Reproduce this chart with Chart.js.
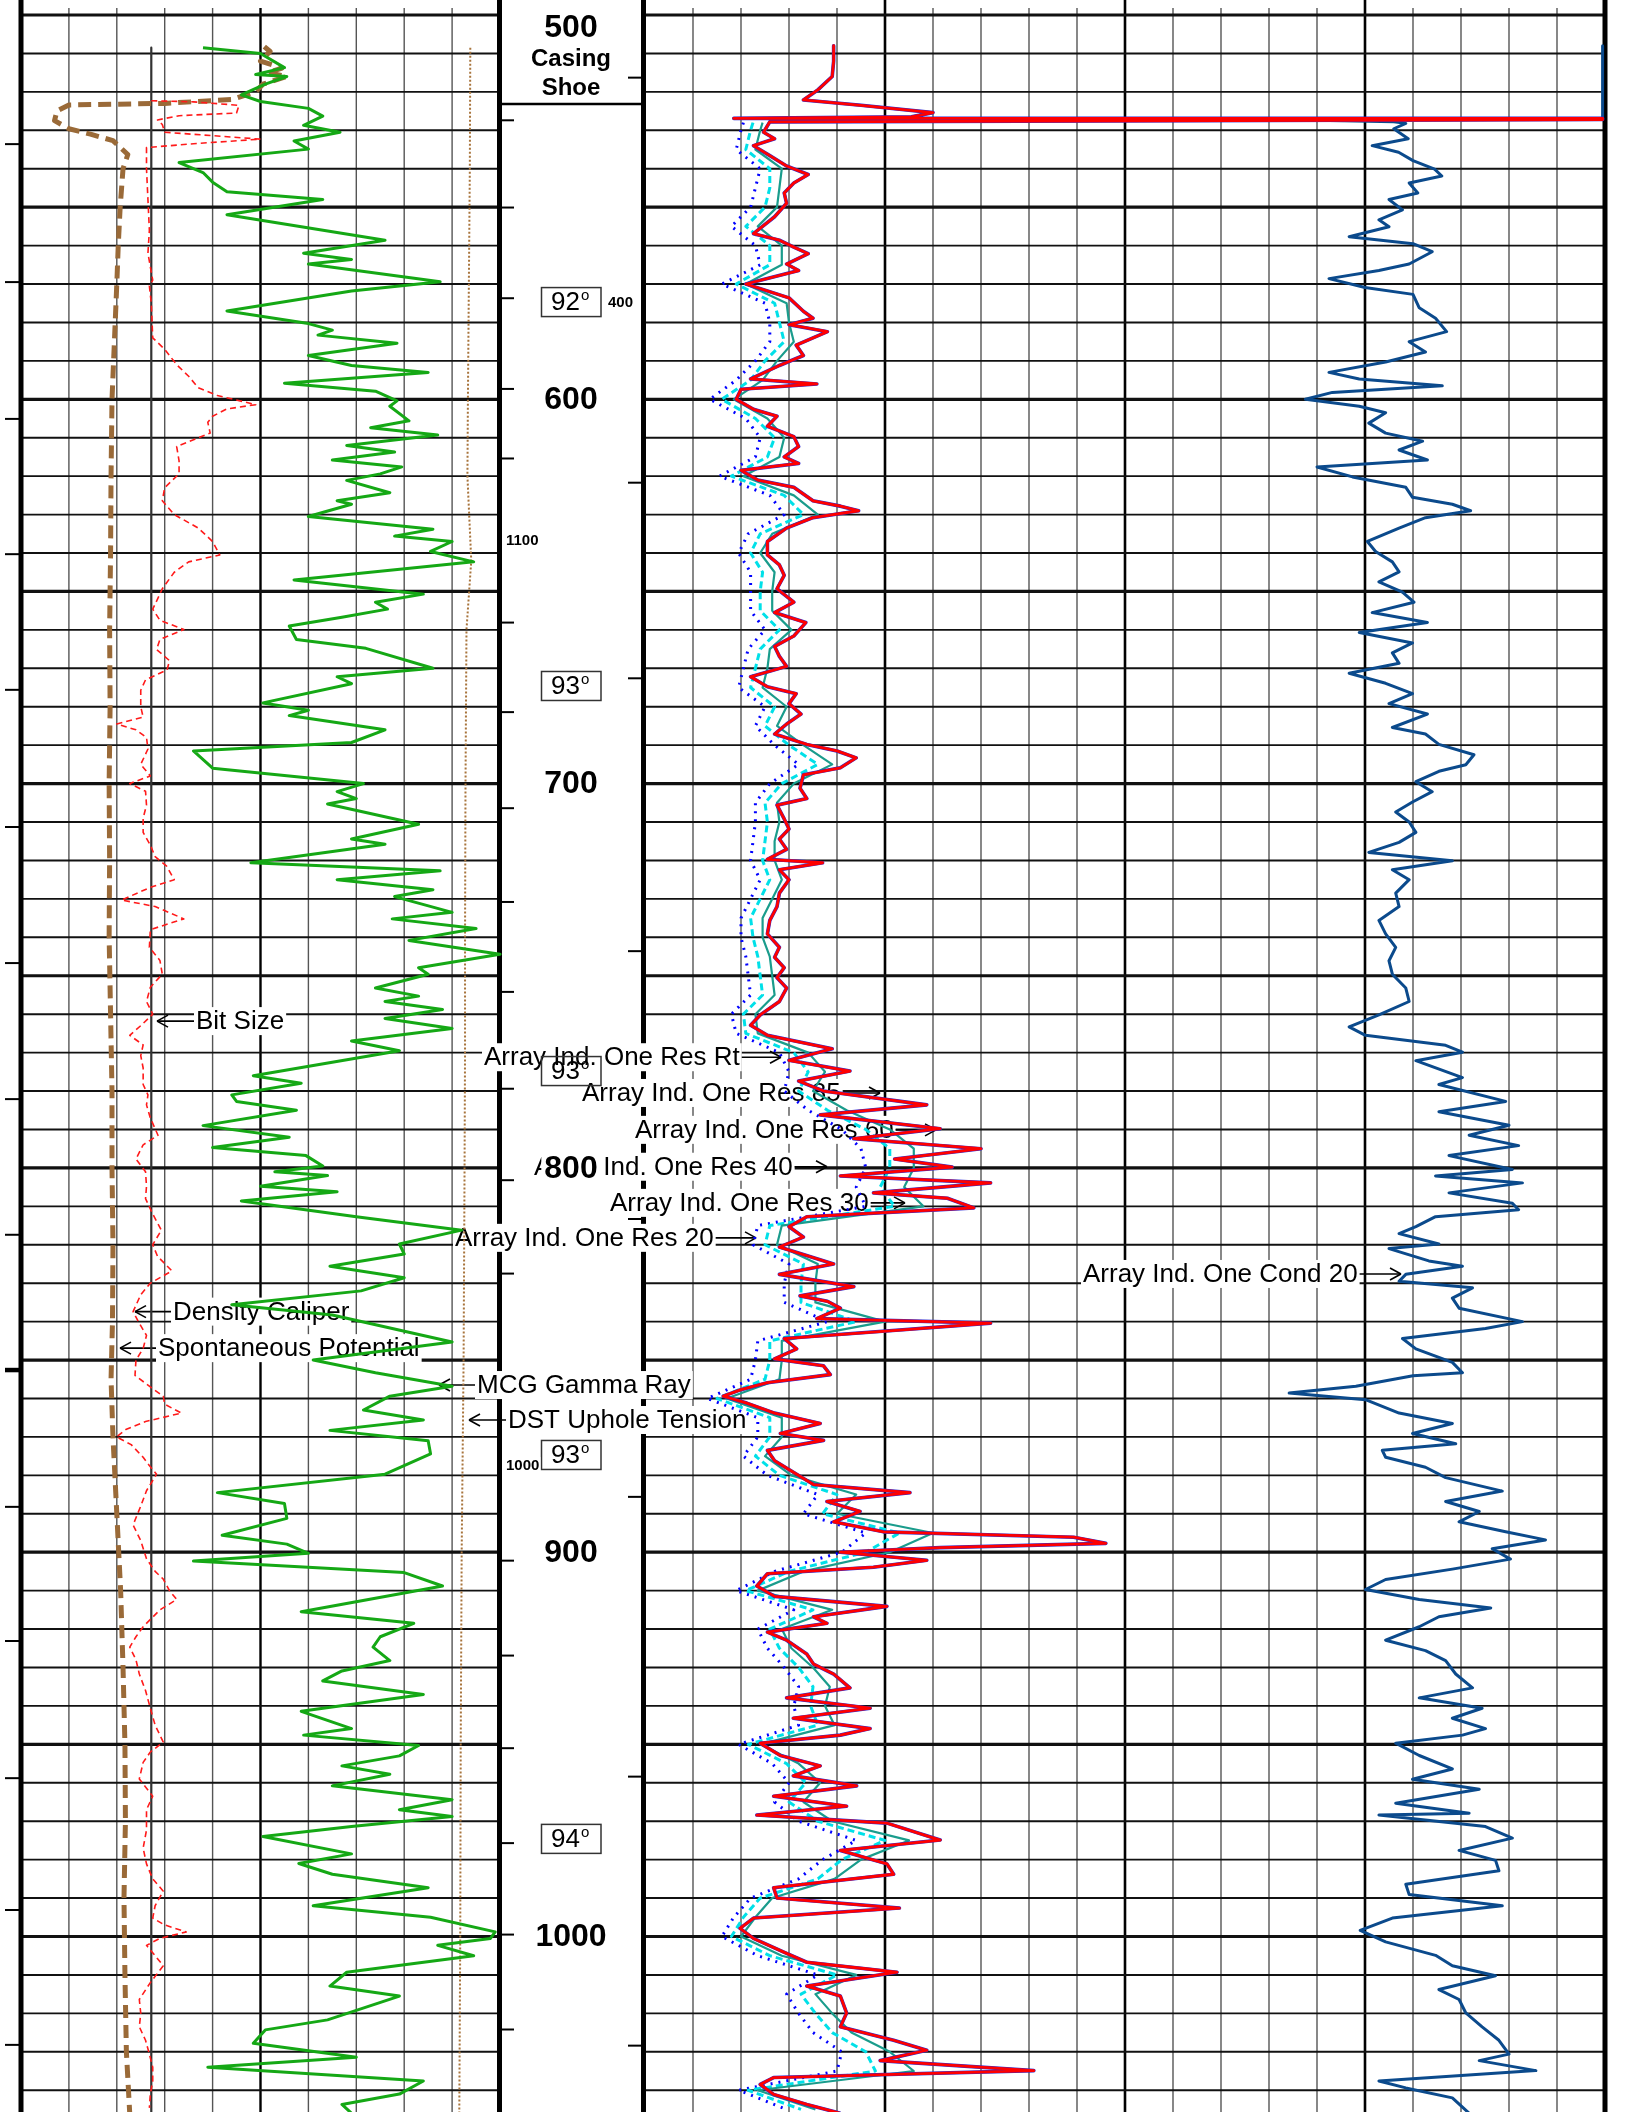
<!DOCTYPE html>
<html>
<head>
<meta charset="utf-8">
<script src="https://cdn.jsdelivr.net/npm/chart.js@4.4.0/dist/chart.umd.min.js"></script>
<style>
html, body { margin: 0; padding: 0; background: #fff; }
#wrap { position: relative; width: 1627px; height: 2112px; }
</style>
</head>
<body>
<div id="wrap"><canvas id="logChart" width="1627" height="2112"></canvas></div>
<script>
// depth (ft) / value pairs, values in track grid units
var gammaRay = [[508.5,3.8],[510,5.0],[513.7,5.5],[515.5,4.9],[516,5.55],[518,5.1],[520.8,4.6],[522.5,5.0],[524.3,6.0],[526.3,6.3],[528.7,5.9],[530.5,6.66],[532.8,5.7],[534.9,6.0],[538.4,3.3],[541,3.8],[543.5,4.0],[546,4.3],[548,6.3],[552,4.3],[558.6,7.6],[562,5.9],[563.6,6.9],[564.8,6.0],[569.4,8.75],[571.8,6.9],[577,4.3],[580.3,6.0],[582,6.5],[583.3,6.2],[585.4,7.85],[588.6,6.0],[591.2,6.9],[593,8.5],[595.8,5.5],[597.9,7.4],[600.4,7.85],[601.8,7.7],[605.6,8.1],[607.4,7.3],[609.3,8.7],[612,6.8],[613.7,7.8],[615.8,6.5],[617.6,7.95],[619.4,7.5],[621.1,6.8],[624.3,7.7],[626.4,6.6],[627.3,6.9],[630.5,6.0],[633.8,8.6],[635.6,7.8],[637,9.0],[639.6,8.55],[642.3,9.45],[647,5.7],[650.7,8.4],[652.8,7.4],[654.6,7.65],[656.7,6.7],[659,5.6],[662.5,5.75],[664.8,7.2],[670,8.6],[672.2,6.6],[674,6.9],[679,5.05],[680.9,6.0],[682.3,5.6],[686,7.6],[689.3,6.9],[691.5,3.6],[696,4.0],[700,7.15],[702.1,6.6],[703.9,7.0],[705.3,6.4],[710.6,8.3],[714.4,6.9],[715.8,7.6],[720.6,4.8],[722.7,8.75],[725,6.6],[727.6,8.6],[729.4,7.8],[733.5,9.0],[735.2,7.75],[737.7,9.5],[740.8,8.1],[744.4,10.0],[747.9,8.3],[749.6,8.5],[753.2,7.4],[755.3,8.3],[756.7,7.6],[758.8,8.8],[761.1,7.6],[763.7,9.0],[767,6.9],[769.5,7.9],[771,7.2],[776,4.85],[778,5.85],[781,4.4],[782.7,4.5],[785,5.75],[789,3.8],[792,5.6],[794.7,4.0],[796.8,5.95],[799.5,6.3],[801,5.3],[802,6.4],[804.8,5.0],[806.2,6.6],[808.6,4.6],[812.7,7.0],[816.2,9.2],[819.8,7.9],[822.4,8.0],[825.6,6.45],[828.6,8.0],[832,7.1],[835.6,4.4],[838.3,6.5],[845.3,9.0],[850,6.1],[853.3,7.4],[856.8,9.0],[859.4,7.7],[863,7.15],[865.6,8.4],[868.3,6.45],[871,8.5],[874.4,8.55],[879.7,7.6],[884.5,4.1],[887.3,5.5],[891.2,5.55],[895.6,4.2],[897.9,5.55],[900.3,6.0],[902.3,3.6],[905.3,8.0],[908.8,8.8],[910.6,8.0],[915.5,5.85],[918.5,8.2],[922,7.5],[924.7,7.35],[928.2,7.7],[930.9,6.7],[933.5,6.3],[937,8.4],[941.4,5.85],[945.9,6.9],[947.6,5.9],[950.3,8.3],[953,7.9],[955.6,6.7],[957.8,7.7],[960.8,6.5],[964.4,9.0],[967,7.9],[968.8,9.0],[971.4,6.9],[974,5.05],[978.5,6.9],[981,5.8],[983.8,6.5],[987.3,8.5],[992,6.1],[995,8.55],[998.8,9.9],[1000.5,9.8],[1002.3,8.7],[1005,9.45],[1009.3,6.8],[1012.9,6.45],[1015.5,7.9],[1021.7,6.4],[1024.3,5.1],[1027.8,4.85],[1031.4,7.0],[1034,3.9],[1037.6,8.4],[1041,7.9],[1043.7,6.7],[1046,6.9]];

var spontaneousPotential = [[508.2,5.08],[509.5,5.2],[512,5.0],[513.8,5.45],[515,5.15],[516,5.55],[518,5.05],[520,4.9],[522,4.4],[523,3.0],[523.4,1.0],[525,0.75],[527.5,0.7],[529.6,1.0],[531,1.45],[532.7,1.92],[536.3,2.23],[540,2.13],[550,2.07],[560,2.03],[570,2.0],[585,1.95],[600,1.9],[620,1.88],[640,1.87],[660,1.85],[680,1.86],[700,1.84],[720,1.85],[740,1.84],[760,1.87],[780,1.9],[800,1.9],[820,1.92],[840,1.91],[855,1.88],[870,1.92],[890,2.0],[910,2.08],[930,2.13],[950,2.17],[970,2.18],[990,2.15],[1010,2.17],[1030,2.2],[1046,2.27]];

var densityCaliper = [[522.3,2.72],[522.6,3.6],[523.5,4.55],[525.5,4.5],[526.2,3.3],[527.3,2.85],[528.5,2.95],[530.5,3.0],[532.3,5.0],[533.5,3.6],[534.5,2.62],[540,2.62],[548,2.65],[556,2.68],[562,2.65],[569,2.75],[570.5,2.68],[575,2.72],[584,2.75],[587,3.0],[591,3.25],[594,3.5],[597,3.7],[599,4.1],[601.4,4.9],[602.5,4.3],[604.4,4.0],[606,3.9],[608.8,3.95],[612.3,3.25],[616,3.3],[619.4,3.3],[623,3.0],[626.4,2.95],[630,3.2],[633.5,3.7],[637,4.0],[640.5,4.15],[642.3,3.5],[645,3.2],[649.3,2.95],[652,2.85],[654.6,2.75],[657.5,2.9],[659.9,3.4],[662.5,2.9],[665.1,2.83],[668,3.1],[670.4,3.05],[673,2.6],[675.7,2.5],[680,2.5],[682.7,2.55],[684.5,2.0],[686,2.4],[688,2.62],[691,2.65],[695,2.5],[698,2.7],[700,2.27],[702,2.6],[705.6,2.62],[709,2.55],[712.7,2.55],[716,2.7],[719,2.8],[721.5,3.04],[725,3.2],[727,2.7],[730.3,2.1],[732,2.8],[735.2,3.4],[738,2.7],[742.6,2.68],[746,2.9],[749.6,2.95],[753,2.7],[756.7,2.62],[760,2.75],[763,2.5],[765.5,2.27],[768,2.55],[770.8,2.5],[774,2.55],[778.3,2.55],[781,2.65],[783.6,2.62],[787,2.7],[791.5,2.86],[794,2.55],[797.7,2.4],[801,2.6],[804.8,2.62],[808,2.6],[812,2.75],[816.2,2.93],[820,2.75],[823,2.85],[826.8,3.15],[830,2.7],[833,2.5],[837.4,2.34],[840,2.45],[843.6,2.62],[847,2.55],[850,2.4],[854,2.38],[857,2.7],[859.4,2.97],[861.5,3.0],[863.8,3.35],[866,2.6],[868,2.2],[870,1.99],[872,2.3],[875.3,2.55],[877,2.65],[879.7,2.83],[884,2.62],[888,2.5],[892.9,2.34],[897,2.5],[901.7,2.62],[905,2.8],[907,2.97],[910,3.1],[912.3,3.25],[915,2.9],[919.4,2.55],[922,2.4],[924.7,2.27],[928,2.4],[931.7,2.47],[936,2.6],[940.6,2.7],[945,2.8],[949.4,2.97],[952,2.7],[954.7,2.55],[959,2.47],[963.5,2.75],[967,2.62],[972.3,2.62],[977,2.55],[981.1,2.62],[985,2.75],[988.2,2.97],[992,2.8],[995.2,2.75],[997,3.0],[998.8,3.45],[1000.5,2.9],[1002.3,2.62],[1005,2.8],[1007.6,2.97],[1012,2.7],[1016.4,2.47],[1020,2.5],[1023.5,2.47],[1027,2.6],[1030.6,2.68],[1034,2.75],[1037.6,2.75],[1041,2.7],[1044.6,2.68]];

var bitSize = [[508.5,2.72],[1046,2.72]];

var upholeTension = [[508.5,9.38],[540,9.37],[570,9.35],[600,9.33],[620,9.32],[642,9.4],[660,9.3],[700,9.28],[740,9.27],[770,9.27],[800,9.26],[850,9.24],[900,9.2],[950,9.18],[1000,9.17],[1046,9.15]];

var resRt = [[508,3.93],[512,3.93],[516,3.9],[519.5,3.6],[522.1,3.3],[523.5,4.5],[525.4,6.0],[526.5,5.55],[526.9,1.85],[526.9,19.95],[527.2,19.95],[527.8,2.6],[530.5,2.47],[532.2,2.7],[534,2.26],[536.6,2.6],[539.3,2.95],[541.5,3.4],[543.7,3.1],[546.3,2.9],[549,2.95],[552.5,2.7],[556.9,2.26],[558.6,2.8],[560.4,3.1],[562.1,3.4],[564.8,2.95],[566.5,3.2],[570,2.1],[573.6,3.0],[577.1,3.3],[578.9,3.5],[580.6,3.0],[582.4,3.8],[585.9,3.15],[588.6,3.3],[591.2,2.8],[594.7,2.2],[596,3.58],[597.4,2.0],[600,1.9],[602.6,2.26],[604.4,2.75],[607,2.55],[609.7,3.1],[612.3,3.2],[615,2.9],[616.7,3.2],[618.5,2.0],[621,2.35],[622.9,3.1],[626.4,3.5],[627.8,4.07],[629,4.45],[630.8,3.5],[633.5,2.95],[637,2.55],[640.5,2.55],[643.1,2.8],[645.8,2.9],[649.3,2.75],[652.8,3.1],[655.5,2.7],[658.1,3.35],[661.6,3.1],[664.3,2.7],[666.9,2.8],[669.5,2.95],[672.2,2.2],[674.8,2.55],[676.6,3.15],[679.2,3.0],[681.9,3.25],[684.5,2.95],[687.1,2.7],[689.8,3.37],[691.5,4.0],[693.3,4.4],[695.9,4.07],[697.7,3.3],[701.2,3.23],[703.9,3.37],[705.6,2.75],[709.2,2.9],[711.8,3.0],[714.4,2.8],[717.1,2.95],[719.7,2.55],[720.6,3.7],[722.4,2.8],[725,3.0],[728.5,2.8],[732,2.75],[735.6,2.6],[739.1,2.55],[742.6,2.8],[745.2,2.7],[747.9,2.9],[750.5,2.75],[753.2,2.95],[756.7,2.8],[760.2,2.4],[762.9,2.2],[765.5,2.55],[769,3.9],[772,3.0],[774.8,4.27],[777.4,3.2],[780,3.72],[783.6,5.87],[786.2,3.65],[789.8,6.15],[792.4,4.35],[795,7.0],[797.7,5.2],[799.8,6.4],[802.1,4.07],[803.9,7.2],[806.5,4.76],[807.9,6.3],[810.4,6.85],[812.7,3.37],[815.3,3.0],[818,3.3],[820.6,2.8],[825,3.93],[827.7,2.8],[830.9,4.35],[833.3,3.23],[834.7,3.8],[836.5,4.07],[839.2,3.58],[840.4,7.2],[842.2,5.3],[844.4,2.9],[847.1,3.16],[849.7,2.7],[851.5,3.72],[853.8,3.86],[855.9,2.55],[857.7,2.0],[859.4,1.63],[861.2,2.12],[863.8,2.7],[866.5,3.65],[869.1,2.82],[870.9,3.72],[873.5,2.55],[876.2,2.7],[879.7,3.16],[882.4,3.51],[884.5,5.52],[886.8,3.79],[889.4,4.48],[892.1,3.93],[894.7,4.97],[896.1,8.93],[897.7,9.6],[898.8,6.15],[900,4.07],[902.1,5.87],[903.9,4.76],[905.6,2.55],[908.8,2.33],[911.5,2.7],[914.1,5.04],[916.8,3.51],[918.5,3.79],[920.8,2.55],[922.9,2.95],[926.5,3.37],[929.1,3.51],[931.7,3.93],[935.3,4.27],[937.9,2.95],[940.6,4.69],[943.2,3.09],[945.9,4.69],[947.6,4.07],[949.7,2.4],[952.9,2.82],[955.6,3.65],[958.2,3.09],[960.8,4.41],[963.5,2.68],[966.1,4.2],[968.4,2.33],[970.5,5.04],[974.9,6.15],[977.6,4.07],[981.1,5.04],[983.8,5.18],[987.3,2.68],[990,2.75],[992.6,5.3],[995.2,2.26],[997.9,1.98],[1000.5,2.26],[1004,2.88],[1006.7,3.37],[1009.3,5.25],[1012.9,3.37],[1015.5,4.07],[1019.9,4.2],[1023.5,4.07],[1027,5.18],[1029.6,5.87],[1032.3,4.9],[1034.9,8.1],[1036.7,2.68],[1038.5,2.4],[1041.1,2.68],[1043.7,3.37],[1046,4.07]];

// shallower array induction curves (depth, res60, res30, res20)
var resShallow = [[528,2.45,2.25,2.05],[530,2.4,2.2,2.0],[535,2.3,2.1,1.9],[540,2.85,2.6,2.4],[545,2.8,2.6,2.3],[550,2.75,2.5,2.2],[555,2.35,2.1,1.8],[560,2.85,2.6,2.3],[565,2.85,2.6,2.4],[570,2.1,1.9,1.6],[575,2.95,2.7,2.5],[580,3.0,2.8,2.6],[585,3.1,2.9,2.6],[590,2.75,2.5,2.3],[595,2.45,2.2,1.9],[600,1.85,1.6,1.35],[605,2.55,2.3,2.1],[610,2.9,2.7,2.4],[615,2.8,2.55,2.3],[620,2.05,1.8,1.55],[625,3.1,2.9,2.6],[630,3.6,3.3,2.9],[635,2.65,2.4,2.15],[640,2.4,2.2,1.95],[645,2.7,2.45,2.2],[650,2.65,2.4,2.2],[655,2.65,2.4,2.2],[660,3.05,2.8,2.5],[665,2.6,2.4,2.15],[670,2.55,2.3,2.05],[675,2.45,2.2,1.95],[680,2.95,2.7,2.5],[685,2.75,2.5,2.3],[690,3.3,3.0,2.7],[695,3.9,3.6,3.2],[700,3.1,2.85,2.6],[705,2.75,2.5,2.3],[710,2.8,2.55,2.3],[715,2.7,2.5,2.25],[720,2.7,2.45,2.2],[725,2.85,2.6,2.4],[730,2.65,2.4,2.2],[735,2.45,2.2,2.0],[740,2.45,2.25,2.0],[745,2.6,2.35,2.1],[750,2.65,2.4,2.15],[755,2.7,2.45,2.2],[760,2.3,2.05,1.8],[765,2.35,2.1,1.9],[770,3.4,3.1,2.8],[775,3.75,3.4,3.0],[780,3.5,3.2,2.9],[785,4.2,3.8,3.4],[790,5.1,4.6,4.1],[795,5.6,5.1,4.5],[800,5.6,5.1,4.6],[805,5.4,4.9,4.4],[810,5.8,5.2,4.6],[815,2.85,2.6,2.35],[820,2.75,2.5,2.25],[825,3.6,3.3,3.0],[830,3.55,3.25,2.9],[835,3.55,3.25,2.9],[840,5.0,4.4,3.8],[845,2.85,2.6,2.35],[850,2.85,2.6,2.3],[855,2.8,2.5,2.2],[860,1.7,1.5,1.3],[865,2.85,2.6,2.35],[870,2.85,2.6,2.35],[875,2.5,2.3,2.05],[880,3.05,2.8,2.55],[885,4.4,4.0,3.6],[890,4.0,3.7,3.3],[895,6.0,5.3,4.6],[900,5.1,4.6,4.1],[905,3.3,3.0,2.7],[910,2.35,2.1,1.9],[915,3.9,3.5,3.1],[920,2.85,2.6,2.35],[925,3.05,2.8,2.55],[930,3.5,3.2,2.9],[935,3.85,3.5,3.2],[940,3.75,3.45,3.1],[945,3.95,3.6,3.2],[950,2.4,2.15,1.95],[955,3.2,2.95,2.65],[960,3.65,3.35,3.0],[965,3.3,3.0,2.7],[970,3.9,3.6,3.2],[975,5.5,5.0,4.4],[980,4.5,4.1,3.7],[985,3.95,3.6,3.2],[990,2.65,2.4,2.2],[995,2.3,2.05,1.85],[1000,2.0,1.8,1.6],[1005,2.85,2.6,2.35],[1010,4.4,4.0,3.6],[1015,3.55,3.25,2.95],[1020,3.9,3.55,3.2],[1025,4.3,3.9,3.5],[1030,5.1,4.6,4.1],[1035,5.6,4.8,4.0],[1040,2.35,2.15,1.95],[1045,3.55,3.25,2.95]];

var cond20 = [[508,19.95],[527,19.95],[527.2,18.0],[527.4,14.0],[527.8,15.6],[528.2,15.85],[529.6,15.6],[532.2,15.9],[534,15.15],[535.7,15.7],[537.9,16.0],[540.1,16.45],[541.9,16.6],[543.7,15.92],[546.3,16.1],[548,15.5],[550.7,15.78],[553.3,15.29],[555.1,15.5],[557.7,14.67],[559.5,16.0],[561.6,16.4],[564.8,15.92],[566.5,15.29],[568.6,14.25],[570.9,15.0],[572.7,16.0],[576.2,16.13],[578.9,16.47],[582.4,16.7],[585,15.92],[587.7,16.26],[590.3,15.43],[593,14.25],[594.7,14.88],[596.5,16.61],[598.2,14.32],[600,13.76],[601.8,14.88],[603.5,15.43],[606.2,15.08],[608.8,15.43],[610.9,16.2],[613.2,15.71],[615.8,16.3],[617.6,14.0],[620.2,14.74],[622.9,15.85],[625.5,15.99],[627.3,16.82],[629,17.2],[630.8,16.26],[633.5,15.71],[637,15.05],[639.6,15.22],[642.3,15.57],[644.9,15.71],[647.5,15.29],[650.2,15.78],[652.8,16.02],[655.5,15.15],[658.1,16.3],[660.7,14.88],[663.4,15.99],[666,15.57],[668.7,15.71],[671.3,14.67],[673.9,15.43],[676.6,15.99],[679.2,15.5],[681.9,16.3],[685.4,15.57],[687.1,16.26],[689.8,16.54],[692.5,17.27],[695.1,17.1],[696.8,16.54],[699.5,16.06],[702.1,16.4],[704.8,15.99],[707.4,15.64],[710,15.92],[712.7,16.06],[715.3,15.71],[717.9,15.08],[720.1,16.82],[722.4,15.57],[725,15.92],[728.5,15.64],[732,15.71],[735.6,15.29],[739.1,15.43],[742.6,15.64],[746.1,15.5],[749.6,15.57],[753.2,15.85],[756.7,15.92],[760.2,15.29],[763.3,14.67],[765.5,15.01],[768.1,16.68],[769.9,17.03],[772.1,16.06],[776.5,17.03],[778.3,16.54],[782.7,17.93],[785.4,16.54],[788.9,18.0],[791.5,17.17],[794.2,18.2],[796.8,16.75],[800.4,18.07],[802.1,16.47],[803.9,18.28],[806.5,16.75],[809.2,18.07],[810.9,18.2],[812.7,16.47],[815.3,16.06],[817.1,15.71],[819.8,16.54],[821,15.5],[824.2,16.33],[825.6,17.03],[827.7,15.85],[829.5,15.71],[831.2,17.24],[833.9,16.82],[836.5,16.96],[840,18.28],[841.8,17.51],[844.4,15.78],[847.1,16.06],[850.6,16.82],[853.3,17.03],[854.1,16.0],[856.8,14.81],[858.6,13.42],[860.3,15.01],[863.8,15.71],[866.5,16.82],[869.1,15.99],[871.8,16.89],[873.5,15.36],[875.3,15.43],[877.9,16.26],[880.6,16.68],[884.1,17.86],[886.8,16.68],[889.4,17.38],[892.1,16.96],[894.7,17.93],[896.8,18.76],[899.1,17.65],[901.8,18.03],[904.4,16.82],[907.1,15.43],[909.7,15.01],[912.3,16.13],[914.5,17.62],[916.8,16.54],[919.4,16.13],[922.9,15.43],[925.6,16.26],[928.2,16.68],[931.7,16.89],[935.3,17.24],[937.9,16.13],[940.6,17.44],[943.2,16.82],[945.9,17.51],[947.6,17.03],[949.7,15.64],[952.9,16.13],[956.4,16.82],[959.1,15.99],[961.7,17.38],[965.3,15.64],[967.9,17.17],[968.4,15.29],[971.4,17.51],[974.4,18.07],[977.6,16.96],[980.2,17.72],[982.9,17.79],[986.4,15.85],[989.1,15.92],[992,17.86],[995.2,15.57],[998.4,14.9],[1001.4,15.43],[1004.9,16.47],[1007.6,16.82],[1010.2,17.72],[1013.8,16.54],[1016.4,16.96],[1019.9,17.1],[1023.5,17.44],[1027,17.79],[1030.6,18.0],[1032.3,17.38],[1034.9,18.56],[1037.6,15.29],[1039.4,15.85],[1042,16.82],[1046,17.17]];

// depth track text
var depthLabels = [500, 600, 700, 800, 900, 1000];
var inclinationDepths = [574.7, 674.6, 774.8, 874.7, 974.6];
var inclinations = ['92', '93', '93', '93', '94'];
var smallTexts = [['400', 574.7, 608], ['1100', 636.6, 506], ['1000', 877.3, 506]];
var farLeftTicks = [533.6, 569.5, 605.1, 640.3, 675.6, 711.3, 746.7, 782.1, 817.4, 852.6, 888.2, 923.1, 958.8, 993.1, 1028.2];
var depthLeftTicks = [527.4, 550.1, 573.7, 597.3, 615.4, 658.1, 681.4, 706.4, 730.8, 754.2, 779.4, 803.2, 827.5, 902.2, 926.9, 951.0, 975.7, 999.5, 1024.2];
var depthRightTicks = [516.3, 621.7, 672.6, 743.6, 813.3, 885.6, 958.4, 1028.4];

// curve name annotations: text, text left px, depth, arrow side, arrow tip px
var curveNotes = [
  ['Bit Size', 196, 761.8, 'left', 157],
  ['Array Ind. One Res Rt', 484, 771.2, 'right', 781],
  ['Array Ind. One Res 85', 582, 780.5, 'right', 880],
  ['Array Ind. One Res 60', 635, 790.1, 'right', 936],
  ['Array Ind. One Res 40', 534, 799.7, 'right', 827],
  ['Array Ind. One Res 30', 610, 809.1, 'right', 905],
  ['Array Ind. One Res 20', 455, 818.2, 'right', 756],
  ['Array Ind. One Cond 20', 1083, 827.6, 'right', 1401],
  ['Density Caliper', 173, 837.4, 'left', 135],
  ['Spontaneous Potential', 158, 846.9, 'left', 120],
  ['MCG Gamma Ray', 477, 856.5, 'left', 439],
  ['DST Uphole Tension', 508, 865.6, 'left', 469]
];

var W = 1627, H = 2112;
var PX_FT = 3.843;
var TOP = 500 - 15 / PX_FT;
var BOT = TOP + H / PX_FT;
var L0 = 21, L1 = 500, R0 = 645, R1 = 1605;
var lUnit = (L1 - L0) / 10, rUnit = (R1 - R0) / 20;
var FONT = '"Liberation Sans", Arial, sans-serif';

function pts(arr, col) {
  return arr.map(function (p) { return { x: p[col || 1], y: p[0] }; });
}

function line(ctx, x0, y0, x1, y1, w, c) {
  ctx.beginPath();
  ctx.lineWidth = w;
  ctx.strokeStyle = c;
  ctx.moveTo(x0, y0);
  ctx.lineTo(x1, y1);
  ctx.stroke();
}

var logGrid = {
  id: 'logGrid',
  beforeDatasetsDraw: function (chart) {
    var ctx = chart.ctx, y = chart.scales.y, xl = chart.scales.xL, xr = chart.scales.xR;
    ctx.save();
    var lx0 = xl.getPixelForValue(0), lx1 = xl.getPixelForValue(10);
    var rx0 = xr.getPixelForValue(0), rx1 = xr.getPixelForValue(20);

    // vertical grid
    for (var i = 1; i < 10; i++) {
      var px = xl.getPixelForValue(i);
      line(ctx, px, 8, px, H, i === 5 ? 2.4 : 1.4, i === 5 ? '#000' : '#555');
    }
    for (var j = 1; j < 20; j++) {
      var qx = xr.getPixelForValue(j);
      var major = j % 5 === 0;
      line(ctx, qx, major ? 0 : 8, qx, H, major ? 2.6 : 1.4, major ? '#000' : '#555');
    }
    // horizontal grid
    for (var d = 500; d <= 1040; d += 10) {
      var py = y.getPixelForValue(d);
      var w = d % 50 === 0 ? 3.2 : 1.9;
      line(ctx, lx0, py, lx1, py, w, '#111');
      line(ctx, rx0, py, rx1, py, w, '#111');
    }
    // track borders
    line(ctx, lx0, 0, lx0, H, 5, '#000');
    line(ctx, 499.5, 0, 499.5, H, 5, '#000');
    line(ctx, 643.5, 0, 643.5, H, 5, '#000');
    line(ctx, rx1, 0, rx1, H, 5, '#000');

    // ticks
    farLeftTicks.forEach(function (t) {
      var ty = y.getPixelForValue(t);
      line(ctx, 5, ty, 20, ty, Math.abs(t - 852.6) < 0.1 ? 4.5 : 2, '#000');
    });
    depthLeftTicks.forEach(function (t) {
      var ty = y.getPixelForValue(t);
      line(ctx, 501, ty, 514, ty, 2, '#000');
    });
    depthRightTicks.forEach(function (t) {
      var ty = y.getPixelForValue(t);
      line(ctx, 628, ty, 642, ty, 2, '#000');
    });

    // curve annotations
    ctx.font = '26px ' + FONT;
    ctx.textBaseline = 'middle';
    ctx.textAlign = 'left';
    curveNotes.forEach(function (n) {
      var ty = y.getPixelForValue(n[2]);
      var tw = ctx.measureText(n[0]).width;
      ctx.fillStyle = '#fff';
      ctx.fillRect(n[1] - 2, ty - 14, tw + 4, 28);
      ctx.fillStyle = '#000';
      ctx.fillText(n[0], n[1], ty + 1);
      var tip = n[4];
      if (n[3] === 'left') {
        line(ctx, tip, ty, n[1] - 2, ty, 1.6, '#000');
        line(ctx, tip, ty, tip + 11, ty - 6, 1.6, '#000');
        line(ctx, tip, ty, tip + 11, ty + 6, 1.6, '#000');
      } else {
        line(ctx, n[1] + tw + 2, ty, tip, ty, 1.6, '#000');
        line(ctx, tip, ty, tip - 11, ty - 6, 1.6, '#000');
        line(ctx, tip, ty, tip - 11, ty + 6, 1.6, '#000');
      }
    });

    // depth numbers
    ctx.textAlign = 'center';
    ctx.font = 'bold 32px ' + FONT;
    depthLabels.forEach(function (v) {
      var ty = y.getPixelForValue(v);
      if (ty < 30) ty = 27;
      var tw = ctx.measureText(String(v)).width;
      ctx.fillStyle = '#fff';
      ctx.fillRect(571 - tw / 2 - 3, ty - 15, tw + 6, 30);
      ctx.fillStyle = '#000';
      ctx.fillText(String(v), 571, ty + 1);
    });
    ctx.font = 'bold 24px ' + FONT;
    ctx.fillText('Casing', 571, 59);
    ctx.fillText('Shoe', 571, 88);
    line(ctx, 501, 104, 642, 104, 2.5, '#000');

    // inclination boxes
    inclinationDepths.forEach(function (dp, k) {
      var by = y.getPixelForValue(dp);
      ctx.lineWidth = 1.5;
      ctx.strokeStyle = '#333';
      ctx.strokeRect(541.5, by - 14.5, 59.5, 29);
      ctx.fillStyle = '#000';
      ctx.font = '26px ' + FONT;
      ctx.textAlign = 'right';
      ctx.fillText(inclinations[k], 580, by + 1);
      ctx.textAlign = 'left';
      ctx.font = '15px ' + FONT;
      ctx.fillText('o', 581, by - 6);
    });
    ctx.font = 'bold 15px ' + FONT;
    ctx.textAlign = 'left';
    smallTexts.forEach(function (s) {
      var sy = y.getPixelForValue(s[1]);
      ctx.fillStyle = '#fff';
      ctx.fillRect(s[2] - 1, sy - 8, ctx.measureText(s[0]).width + 2, 16);
      ctx.fillStyle = '#000';
      ctx.fillText(s[0], s[2], sy + 1);
    });
    ctx.restore();
  }
};

function curve(label, data, axis, color, width, dash) {
  return {
    label: label,
    data: data,
    xAxisID: axis,
    yAxisID: 'y',
    showLine: true,
    borderColor: color,
    backgroundColor: color,
    borderWidth: width,
    borderDash: dash || [],
    borderJoinStyle: 'round',
    pointRadius: 0,
    tension: 0,
    fill: false
  };
}

new Chart(document.getElementById('logChart'), {
  type: 'scatter',
  data: {
    datasets: [
      curve('Array Ind. One Res Rt', pts(resRt), 'xR', '#ff0000', 2.8),
      curve('Array Ind. One Res 85', pts(resRt), 'xR', '#2a2ad0', 3.6),
      curve('Array Ind. One Res 60', pts(resShallow, 1), 'xR', '#1a9c8c', 2.2),
      curve('Array Ind. One Res 30', pts(resShallow, 2), 'xR', '#00e0e8', 3, [7, 4]),
      curve('Array Ind. One Res 20', pts(resShallow, 3), 'xR', '#0000ff', 3, [2, 6]),
      curve('Array Ind. One Cond 20', pts(cond20), 'xR', '#0b4a8c', 3),
      curve('MCG Gamma Ray', pts(gammaRay), 'xL', '#15a815', 3),
      curve('Density Caliper', pts(densityCaliper), 'xL', '#ff1a1a', 1.6, [6, 4]),
      curve('Spontaneous Potential', pts(spontaneousPotential), 'xL', '#9a6a38', 5, [13, 7]),
      curve('Bit Size', pts(bitSize), 'xL', '#333333', 2.2),
      curve('DST Uphole Tension', pts(upholeTension), 'xL', '#a8743c', 2, [2, 2])
    ]
  },
  options: {
    responsive: false,
    devicePixelRatio: 1,
    animation: false,
    events: [],
    layout: { padding: 0 },
    plugins: { legend: { display: false }, tooltip: { enabled: false } },
    scales: {
      y: { type: 'linear', axis: 'y', reverse: true, min: TOP, max: BOT, display: false },
      xL: { type: 'linear', axis: 'x', min: -L0 / lUnit, max: (W - L0) / lUnit, display: false },
      xR: { type: 'linear', axis: 'x', min: -R0 / rUnit, max: (W - R0) / rUnit, display: false }
    }
  },
  plugins: [logGrid]
});
</script>
</body>
</html>
